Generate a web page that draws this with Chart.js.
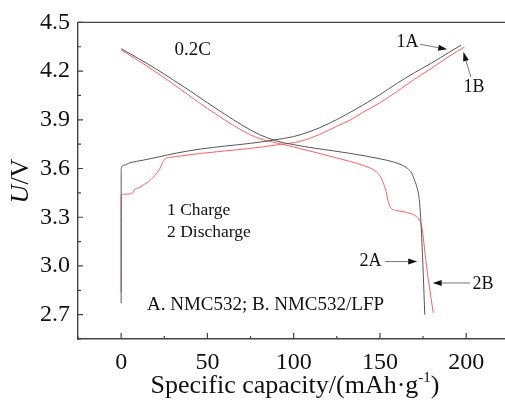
<!DOCTYPE html>
<html>
<head>
<meta charset="utf-8">
<script src="https://cdn.jsdelivr.net/npm/chart.js@4"></script>
<style>
  body { margin: 0; background: #fff; }
  canvas { display: block; }
</style>
</head>
<body>
<canvas id="chart" width="505" height="404"></canvas>
<script>
// charge / discharge curves, capacity (mAh/g) and voltage (V)
const chargeA_cap = [0, 0.02, 0.05, 1.5, 5, 13, 22, 32, 46, 60, 75, 88, 100, 110, 120, 130, 140, 150, 160, 170, 180, 190, 197];
const chargeA_U   = [2.77, 3.50, 3.60, 3.62, 3.635, 3.652, 3.672, 3.695, 3.72, 3.738, 3.755, 3.775, 3.797, 3.83, 3.875, 3.93, 3.99, 4.055, 4.125, 4.19, 4.25, 4.315, 4.36];

const chargeB_cap = [0, 0.02, 0.05, 3, 7, 7.6, 10, 13, 16, 18.5, 20.5, 22.5, 24, 25.5, 28, 35, 46, 60, 75, 90, 104, 115, 125, 133, 140, 150, 160, 170, 181, 190, 199];
const chargeB_U   = [2.84, 3.40, 3.436, 3.442, 3.452, 3.47, 3.48, 3.50, 3.52, 3.545, 3.57, 3.60, 3.635, 3.66, 3.668, 3.678, 3.693, 3.708, 3.724, 3.745, 3.768, 3.81, 3.86, 3.90, 3.945, 4.005, 4.075, 4.15, 4.225, 4.29, 4.348];

const dischargeA_cap = [0, 10, 20, 30, 40, 50, 60, 70, 80, 90, 100, 113, 133, 150, 158, 163, 166, 168.5, 170, 171.3, 172.8, 173.6, 174.3, 175.1, 176];
const dischargeA_U   = [4.338, 4.278, 4.215, 4.147, 4.078, 4.005, 3.935, 3.868, 3.81, 3.77, 3.747, 3.724, 3.693, 3.66, 3.64, 3.62, 3.60, 3.57, 3.53, 3.49, 3.41, 3.30, 3.16, 2.955, 2.70];

const dischargeB_cap = [0, 10, 20, 30, 40, 50, 60, 70, 80, 90, 100, 113.4, 125, 133, 140, 145, 148, 150, 152, 153.5, 155, 156.5, 159, 164, 168, 171, 173, 174.3, 175.5, 177, 179, 180.9];
const dischargeB_U   = [4.33, 4.265, 4.195, 4.122, 4.045, 3.97, 3.90, 3.835, 3.785, 3.758, 3.733, 3.697, 3.665, 3.643, 3.62, 3.60, 3.58, 3.555, 3.51, 3.46, 3.39, 3.355, 3.343, 3.333, 3.322, 3.305, 3.28, 3.24, 3.14, 3.0, 2.85, 2.71];

const xTicks = [0, 50, 100, 150, 200];
const yTicks = [2.7, 3.0, 3.3, 3.6, 3.9, 4.2, 4.5];

const SERIF = '"Liberation Serif", "Times New Roman", serif';
const BLACK = 'rgb(85,85,85)';
const RED = 'rgb(255,95,95)';

function pts(xs, ys) {
    return xs.map((x, i) => ({ x: x, y: ys[i] }));
}

// text labels placed in data units
const notes = [
    { text: '0.2C', x: 41.5, y: 4.33, size: 19, align: 'center' },
    { text: '1A', x: 166, y: 4.38, size: 18, align: 'center' },
    { text: '1B', x: 204.6, y: 4.10, size: 18, align: 'center' },
    { text: '2A', x: 144.6, y: 3.027, size: 18, align: 'center' },
    { text: '2B', x: 209.8, y: 2.89, size: 18, align: 'center' },
    { text: '1 Charge', x: 26.6, y: 3.342, size: 17.5, align: 'left' },
    { text: '2 Discharge', x: 26.6, y: 3.206, size: 17.5, align: 'left' },
    { text: 'A. NMC532; B. NMC532/LFP', x: 15, y: 2.762, size: 19, align: 'left' }
];

const arrows = [
    { from: [173.4, 4.365], to: [189, 4.334] },
    { from: [202.7, 4.164], to: [198.4, 4.317] },
    { from: [153.1, 3.027], to: [171.6, 3.027] },
    { from: [202.3, 2.895], to: [180.6, 2.895] }
];

const extras = {
    id: 'extras',
    afterDraw(chart) {
        const c = chart.ctx;
        const xs = chart.scales.x, ys = chart.scales.y;
        const a = chart.chartArea;
        c.save();

        // top frame line
        c.strokeStyle = '#444';
        c.lineWidth = 1.4;
        c.beginPath();
        c.moveTo(a.left, a.top);
        c.lineTo(a.right, a.top);
        c.stroke();

        // inward tick marks
        c.lineWidth = 1.2;
        c.beginPath();
        for (let v = -25; v <= 222; v += 25) {
            const px = xs.getPixelForValue(v);
            const len = (v % 50 === 0) ? 6 : 3;
            c.moveTo(px, a.bottom);
            c.lineTo(px, a.bottom - len);
        }
        for (let k = 0; k <= 13; k++) {
            const v = 2.55 + k * 0.15;
            const py = ys.getPixelForValue(v);
            const len = (k % 2 === 1) ? 5 : 3;
            c.moveTo(a.left, py);
            c.lineTo(a.left + len, py);
        }
        c.stroke();

        // notes
        c.fillStyle = '#111';
        c.textBaseline = 'middle';
        notes.forEach(n => {
            c.font = n.size + 'px ' + SERIF;
            c.textAlign = n.align;
            c.fillText(n.text, xs.getPixelForValue(n.x), ys.getPixelForValue(n.y));
        });

        // arrows
        arrows.forEach(ar => {
            const x1 = xs.getPixelForValue(ar.from[0]), y1 = ys.getPixelForValue(ar.from[1]);
            const x2 = xs.getPixelForValue(ar.to[0]), y2 = ys.getPixelForValue(ar.to[1]);
            const ang = Math.atan2(y2 - y1, x2 - x1);
            const hl = 9, hw = 3;
            c.strokeStyle = '#777';
            c.lineWidth = 1;
            c.beginPath();
            c.moveTo(x1, y1);
            c.lineTo(x2 - hl * Math.cos(ang), y2 - hl * Math.sin(ang));
            c.stroke();
            c.fillStyle = '#111';
            c.beginPath();
            c.moveTo(x2, y2);
            c.lineTo(x2 - hl * Math.cos(ang) + hw * Math.sin(ang), y2 - hl * Math.sin(ang) - hw * Math.cos(ang));
            c.lineTo(x2 - hl * Math.cos(ang) - hw * Math.sin(ang), y2 - hl * Math.sin(ang) + hw * Math.cos(ang));
            c.closePath();
            c.fill();
        });

        // x axis title with superscript
        c.fillStyle = '#111';
        c.textAlign = 'left';
        c.textBaseline = 'alphabetic';
        const main = 'Specific capacity/(mAh\u00b7g', sup = '-1', close = ')';
        c.font = '26px ' + SERIF;
        const w1 = c.measureText(main).width, w3 = c.measureText(close).width;
        c.font = '15px ' + SERIF;
        const w2 = c.measureText(sup).width;
        let tx = 295 - (w1 + w2 + w3) / 2;
        const base = 393;
        c.font = '26px ' + SERIF;
        c.fillText(main, tx, base);
        c.font = '15px ' + SERIF;
        c.fillText(sup, tx + w1, base - 11);
        c.font = '26px ' + SERIF;
        c.fillText(close, tx + w1 + w2, base);

        // y axis title
        c.translate(21, 181);
        c.rotate(-Math.PI / 2);
        c.textBaseline = 'middle';
        c.font = 'italic 26px ' + SERIF;
        const u = 'U';
        const wu = c.measureText(u).width;
        c.font = '26px ' + SERIF;
        const rest = '/V';
        const wr = c.measureText(rest).width;
        const sx = -(wu + wr) / 2;
        c.font = 'italic 26px ' + SERIF;
        c.fillText(u, sx, 0);
        c.font = '26px ' + SERIF;
        c.fillText(rest, sx + wu, 0);

        c.restore();
    }
};

const line = (data, color) => ({
    data: data,
    borderColor: color,
    borderWidth: 1,
    pointRadius: 0,
    cubicInterpolationMode: 'monotone',
    fill: false
});

new Chart(document.getElementById('chart'), {
    type: 'line',
    data: {
        datasets: [
            line(pts(chargeA_cap, chargeA_U), BLACK),
            line(pts(dischargeA_cap, dischargeA_U), BLACK),
            line(pts(chargeB_cap, chargeB_U), RED),
            line(pts(dischargeB_cap, dischargeB_U), RED)
        ]
    },
    options: {
        responsive: false,
        devicePixelRatio: 1,
        animation: false,
        layout: { padding: { top: 22, right: 0, left: 0, bottom: 0 } },
        plugins: { legend: { display: false }, tooltip: { enabled: false } },
        scales: {
            x: {
                type: 'linear',
                min: -25,
                max: 222.5,
                grid: { display: false, drawTicks: false },
                border: { display: true, color: '#444', width: 1.4 },
                afterBuildTicks: s => { s.ticks = xTicks.map(v => ({ value: v })); },
                afterFit: s => { s.height = 65; },
                ticks: { font: { family: SERIF, size: 24 }, color: '#111', padding: 9, maxRotation: 0 }
            },
            y: {
                type: 'linear',
                min: 2.55,
                max: 4.5,
                grid: { display: false, drawTicks: false },
                border: { display: true, color: '#444', width: 1.4 },
                afterBuildTicks: s => { s.ticks = yTicks.map(v => ({ value: v })); },
                afterFit: s => { s.width = 78; },
                ticks: {
                    font: { family: SERIF, size: 24 }, color: '#111', padding: 8,
                    callback: v => v.toFixed(1)
                }
            }
        }
    },
    plugins: [extras]
});
</script>
</body>
</html>
